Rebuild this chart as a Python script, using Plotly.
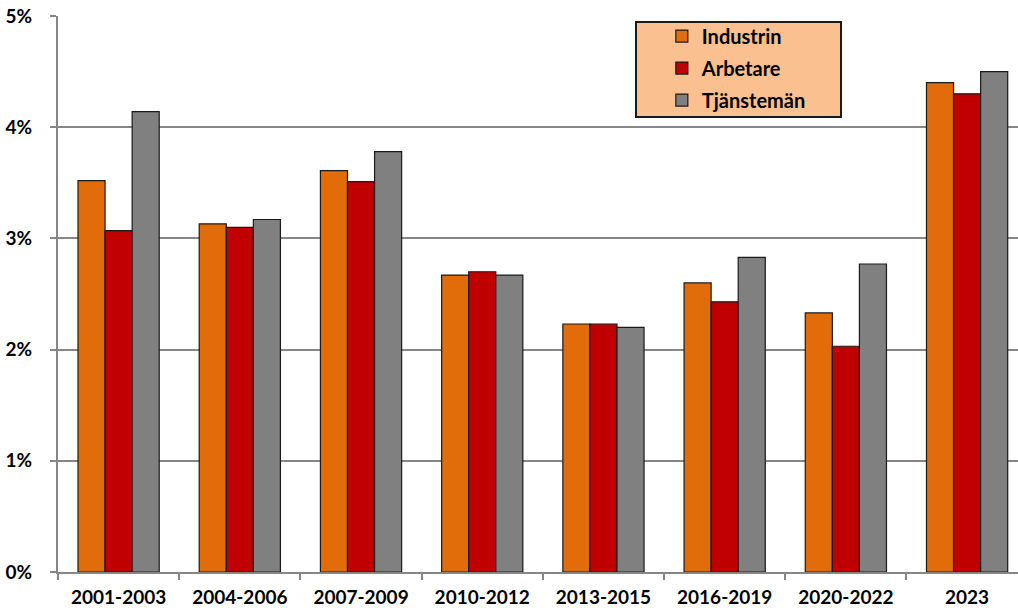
import plotly.graph_objects as go

categories = ["2001-2003", "2004-2006", "2007-2009", "2010-2012",
              "2013-2015", "2016-2019", "2020-2022", "2023"]
industrin = [3.52, 3.13, 3.61, 2.67, 2.23, 2.60, 2.33, 4.40]
arbetare = [3.07, 3.10, 3.51, 2.70, 2.23, 2.43, 2.03, 4.30]
tjansteman = [4.14, 3.17, 3.78, 2.67, 2.20, 2.83, 2.77, 4.50]
series_names = ["Industrin", "Arbetare", "Tjänstemän"]
series_colors = ["#E36C0A", "#C00000", "#808080"]
y_tickvals = [0, 1, 2, 3, 4, 5]
y_ticktext = ["0%", "1%", "2%", "3%", "4%", "5%"]

FONT = "Lato"
TICKFONT = dict(family=FONT, size=19, color="black", weight="bold")
fig = go.Figure()
for i, (name, vals, col) in enumerate(zip(series_names, [industrin, arbetare, tjansteman], series_colors)):
    fig.add_trace(go.Bar(
        x=categories, y=vals, name=name, legendgroup=f"g{i}",
        marker=dict(color=col, line=dict(color="#1a1a1a", width=1.2)),
    ))

fig.update_layout(
    width=1018, height=610,
    margin=dict(l=58, r=0, t=16, b=38, autoexpand=False),
    paper_bgcolor="white", plot_bgcolor="white",
    barmode="group", bargap=0.33, bargroupgap=0,
    font=dict(family=FONT, size=18, color="black"),
    showlegend=True,
    legend=dict(
        x=0.629, y=0.999, xanchor="left", yanchor="top",
        bgcolor="rgba(0,0,0,0)", borderwidth=0,
        font=dict(family=FONT, size=20, color="black", weight="bold"),
        tracegroupgap=3, traceorder="grouped",
    ),
    shapes=[dict(type="rect", xref="paper", yref="paper",
                 x0=(636 - 58) / 960, x1=(841 - 58) / 960,
                 y0=(572 - 117) / 556, y1=(572 - 22) / 556,
                 fillcolor="#FAC090", line=dict(color="#1a1a1a", width=2),
                 layer="below")],
)
fig.update_xaxes(
    type="category", range=[-0.5, 7.42], automargin=False,
    showline=True, linecolor="#868686", linewidth=2,
    ticks="outside", tickson="boundaries", ticklen=6, tickcolor="#868686", tickwidth=2,
    tickfont=TICKFONT, ticklabelstandoff=7,
    showgrid=False,
)
fig.update_yaxes(
    range=[0, 5], tickvals=y_tickvals, ticktext=y_ticktext, automargin=False,
    showline=True, linecolor="#868686", linewidth=2,
    ticks="outside", ticklen=6, tickcolor="#868686", tickwidth=2,
    showgrid=True, gridcolor="#868686", gridwidth=2,
    tickfont=TICKFONT, ticklabelstandoff=14,
    zeroline=False,
)
fig.write_html("out.html", config={"displayModeBar": False},
               post_script="document.body.style.margin='0';document.body.style.overflow='hidden';")
